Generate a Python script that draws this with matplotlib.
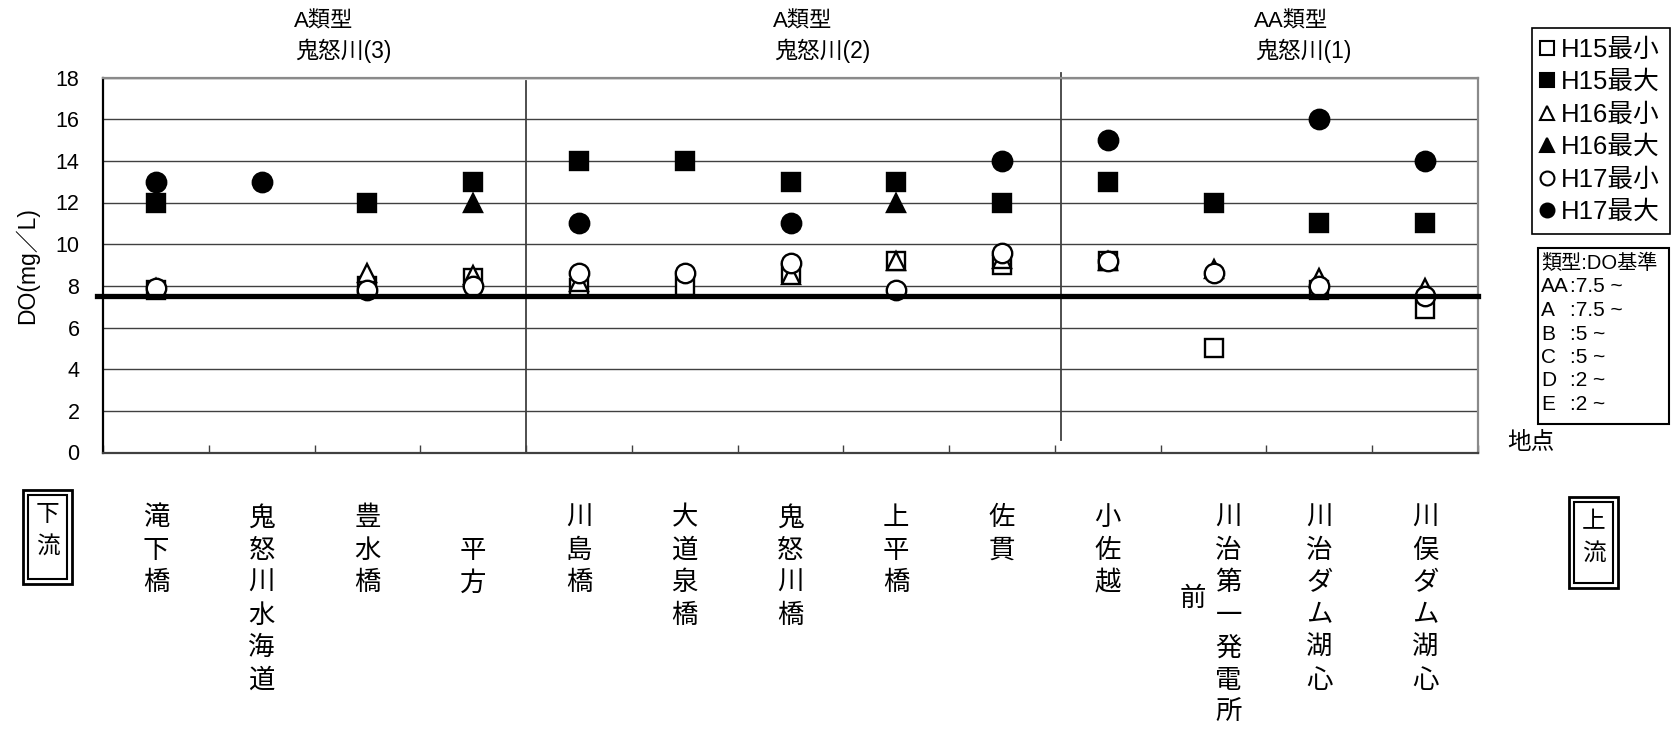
import numpy as np
import matplotlib
matplotlib.use("Agg")
import matplotlib.pyplot as plt
import matplotlib.transforms as mtransforms
from matplotlib.lines import Line2D
from matplotlib.patches import Rectangle

plt.rcParams['font.family'] = ['Liberation Sans', 'Noto Sans CJK JP']

# --- data (DO mg/L, downstream -> upstream) ---
stations = ['滝下橋', '鬼怒川水海道', '豊水橋', '平方', '川島橋', '大道泉橋', '鬼怒川橋',
            '上平橋', '佐貫', '小佐越', '川治第一発電所前', '川治ダム湖心', '川俣ダム湖心']
nan = np.nan
h15_min = [7.8, nan, 8.0, 8.4, 7.9, 8.0, 8.6, 9.2, 9.0, 9.2, 5.0, 7.8, 6.9]
h15_max = [12, nan, 12, 13, 14, 14, 13, 13, 12, 13, 12, 11, 11]
h16_min = [7.9, nan, 8.6, 8.5, 8.2, nan, 8.5, 9.2, 9.3, 9.2, 8.8, 8.4, 7.9]
h16_max = [nan, nan, nan, 12, nan, nan, nan, 12, nan, nan, nan, nan, nan]
h17_min = [7.9, nan, 7.8, 8.0, 8.6, 8.6, 9.1, 7.8, 9.6, 9.2, 8.6, 8.0, 7.5]
h17_max = [13, 13, nan, nan, 11, nan, 11, nan, 14, 15, nan, 16, 14]
series_labels = ['H15最小', 'H15最大', 'H16最小', 'H16最大', 'H17最小', 'H17最大']

do_standard = 7.5
group_types = ['A類型', 'A類型', 'AA類型']
group_rivers = ['鬼怒川(3)', '鬼怒川(2)', '鬼怒川(1)']
std_classes = ['類型', 'AA', 'A', 'B', 'C', 'D', 'E']
std_values = [':DO基準', ':7.5 ~', ':7.5 ~', ':5 ~', ':5 ~', ':2 ~', ':2 ~']

W, H = 1671, 729
fig = plt.figure(figsize=(W / 100, H / 100), dpi=100)


def fx(px):
    return px / W


def fy(py):
    return 1 - py / H


ax = fig.add_axes([fx(103), fy(452.5), fx(1478) - fx(103), fy(77.5) - fy(452.5)])
x = np.arange(len(stations))

styles = [
    (h15_min, 's', 'white', 13.5),
    (h15_max, 's', 'black', 13.5),
    (h16_min, '^', 'white', 13.5),
    (h16_max, '^', 'black', 13.5),
    (h17_min, 'o', 'white', 14),
    (h17_max, 'o', 'black', 14),
]
for k, (vals, mk, fc, ms) in enumerate(styles):
    ax.plot(x, vals, ls='none', marker=mk, ms=ms, mfc=fc, mec='black',
            mew=1.7, zorder=3 + k, clip_on=False)

ax.axhline(do_standard, xmin=-0.0045, xmax=1, color='black', lw=3.8,
           zorder=10, clip_on=False)

# group dividers
ax.axvline(3.5, ymin=0, ymax=0.99, color='#404040', lw=1.3, zorder=2)
ax.axvline(8.557, ymin=0.034, ymax=1.011, color='#404040', lw=1.3, zorder=2,
           clip_on=False)

ax.set_xlim(-0.5, 12.5)
ax.set_ylim(0, 18)
ax.set_yticks(np.arange(0, 19, 2))
ax.yaxis.grid(True, color='#404040', lw=1)
ax.set_axisbelow(True)
ax.tick_params(axis='y', length=0, pad=17, labelsize=15.5)
ax.set_xticks(np.arange(-0.5, 13, 1))
ax.tick_params(axis='x', direction='in', length=6, width=1, color='#404040',
               labelbottom=False)
ax.spines['left'].set_linewidth(1.6)
ax.spines['left'].set_color('black')
ax.spines['bottom'].set_linewidth(1.6)
ax.spines['bottom'].set_color('#404040')
for s in ('top', 'right'):
    ax.spines[s].set_linewidth(1.6)
    ax.spines[s].set_color('#8a8a8a')

fig.text(fx(27), fy(266), 'DO(mg／L)', rotation=90, ha='center', va='center',
         fontsize=16.5)
fig.text(fx(1531), fy(443), '地点', ha='center', va='center', fontsize=17)

# group titles
for gx, gt, gr in zip([294, 773, 1254], group_types, group_rivers):
    fig.text(fx(gx), fy(22), gt, ha='left', va='center', fontsize=16)
    fig.text(fx(gx + 1), fy(51), gr, ha='left', va='center', fontsize=16.5)

# vertical station names
blend = mtransforms.blended_transform_factory(ax.transData, fig.transFigure)
pitch = 32.5
row0 = 518


def vtext(xpos, s, dx=0, start=0, size=19, trans=blend, top=row0, step=pitch):
    t = mtransforms.offset_copy(trans, fig=fig, x=dx, y=0, units='dots')
    for k, ch in enumerate(s):
        fig.text(xpos, fy(top + (start + k) * step), ch, transform=t,
                 ha='center', va='center', fontsize=size)


for i, name in enumerate(stations):
    if name == '平方':
        vtext(i, name, start=1)
    elif len(name) > 7:
        vtext(i, name[:7], dx=15)
        vtext(i, name[7:], dx=-21, start=2.5)
    else:
        vtext(i, name)

# downstream / upstream boxes
for (x0, y0, x1, y1), label in [((23, 490, 72, 584), '下流'), ((1569, 497, 1618, 588), '上流')]:
    fig.add_artist(Rectangle((fx(x0), fy(y1)), fx(x1) - fx(x0), fy(y0) - fy(y1),
                             transform=fig.transFigure, fill=False, ec='black', lw=2))
    fig.add_artist(Rectangle((fx(x0 + 5), fy(y1 - 5)), fx(x1 - x0 - 10), fy(y0 + 5) - fy(y1 - 5),
                             transform=fig.transFigure, fill=False, ec='black', lw=1.5))
    cx = (x0 + x1) / 2
    for k, ch in enumerate(label):
        fig.text(fx(cx), fy(y0 + 25 + k * 32), ch, ha='center', va='center', fontsize=17)

# series legend
handles = [Line2D([], [], ls='none', marker=mk, ms=10, mfc=fc, mec='black', mew=1.5)
           for (_, mk, fc, _) in styles]
leg = fig.legend(handles, series_labels, loc='upper right',
                 bbox_to_anchor=(fx(1670), fy(28)), bbox_transform=fig.transFigure,
                 borderaxespad=0, fontsize=18.5, frameon=True, fancybox=False,
                 edgecolor='black', framealpha=1, borderpad=0.38, labelspacing=0.33,
                 handlelength=0.4, handletextpad=0.35)
leg.get_frame().set_linewidth(1.2)

# DO standard box
fig.add_artist(Rectangle((fx(1538), fy(424)), fx(1669) - fx(1538), fy(248) - fy(424),
                         transform=fig.transFigure, fill=False, ec='black', lw=1.5))
fig.text(fx(1541), fy(263), std_classes[0] + std_values[0], ha='left', va='center',
         fontsize=14.5)
for k, (c, v) in enumerate(zip(std_classes[1:], std_values[1:])):
    yy = fy(287 + k * 23.5)
    fig.text(fx(1541), yy, c, ha='left', va='center', fontsize=15)
    fig.text(fx(1570), yy, v, ha='left', va='center', fontsize=15)

fig.savefig('out.png', dpi=100)
